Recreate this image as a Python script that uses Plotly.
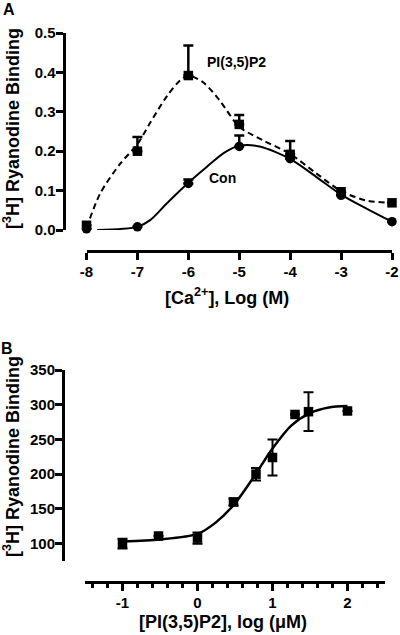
import plotly.graph_objects as go

# ---------------- Panel A data ----------------
ca_log = [-8, -7, -6, -5, -4, -3, -2]
pip2_vals = [0.012, 0.200, 0.392, 0.268, 0.192, 0.097, 0.069]
pip2_err = [0.0, 0.036, 0.076, 0.024, 0.034, 0.0, 0.0]
con_vals = [0.003, 0.008, 0.118, 0.212, 0.181, 0.088, 0.021]
con_err = [0.0, 0.0, 0.010, 0.028, 0.0, 0.0, 0.0]

# fitted curves
pip2_fit_x = [-8.0, -7.73, -7.34, -7.0, -6.75, -6.42, -6.16, -6.0, -5.71, -5.38, -5.0, -4.54, -4.01, -3.49, -3.0, -2.51, -2.0]
pip2_fit_y = [0.005, 0.093, 0.168, 0.218, 0.272, 0.340, 0.380, 0.392, 0.375, 0.328, 0.262, 0.228, 0.194, 0.144, 0.099, 0.075, 0.069]
con_fit_x = [-7.79, -7.0, -6.75, -6.42, -6.0, -5.64, -5.3, -5.0, -4.6, -4.01, -3.49, -3.0, -2.51, -2.0]
con_fit_y = [0.0, 0.008, 0.025, 0.068, 0.120, 0.160, 0.196, 0.214, 0.212, 0.181, 0.135, 0.090, 0.055, 0.021]

# ---------------- Panel B data ----------------
pi_log = [-1.0, -0.52, 0.0, 0.48, 0.78, 1.0, 1.3, 1.48, 2.0]
binding = [100, 111, 108, 160, 200, 224, 286, 290, 291]
binding_err = [7, 0, 8, 5, 9, 26, 0, 28, 0]
fit_b_x = [-1.0, -0.5, 0.0, 0.25, 0.5, 0.75, 1.0, 1.25, 1.5, 1.75, 2.0]
fit_b_y = [103, 106, 114, 131, 158, 196, 237, 270, 288, 296, 298]

ticks_a_y = [0.0, 0.1, 0.2, 0.3, 0.4, 0.5]
ticks_a_x = [-8, -7, -6, -5, -4, -3, -2]
ticks_b_y = [100, 150, 200, 250, 300, 350]
ticks_b_x = [-1, 0, 1, 2]

W, H = 400, 635
FONT = "Liberation Sans, Arial, Helvetica, sans-serif"


def px(x):
    return x / W


def py(y):
    return 1 - y / H


fig = go.Figure()

# Panel A curves
fig.add_trace(go.Scatter(x=pip2_fit_x, y=pip2_fit_y, mode="lines", line=dict(color="black", width=2, dash="6px,4px", shape="spline", smoothing=0.8), xaxis="x", yaxis="y", showlegend=False, hoverinfo="skip"))
fig.add_trace(go.Scatter(x=con_fit_x, y=con_fit_y, mode="lines", line=dict(color="black", width=2, shape="spline", smoothing=0.8), xaxis="x", yaxis="y", showlegend=False, hoverinfo="skip"))
fig.add_trace(go.Scatter(x=ca_log, y=pip2_vals, mode="markers", marker=dict(symbol="square", size=9.5, color="black"),
                         error_y=dict(type="data", array=pip2_err, arrayminus=[0]*len(pip2_err), symmetric=False, color="black", thickness=2.5, width=5),
                         xaxis="x", yaxis="y", cliponaxis=False, showlegend=False))
fig.add_trace(go.Scatter(x=ca_log, y=con_vals, mode="markers", marker=dict(symbol="circle", size=9.5, color="black"),
                         error_y=dict(type="data", array=con_err, arrayminus=[0]*len(con_err), symmetric=False, color="black", thickness=2.5, width=5),
                         xaxis="x", yaxis="y", cliponaxis=False, showlegend=False))

# Panel B
fig.add_trace(go.Scatter(x=fit_b_x, y=fit_b_y, mode="lines", line=dict(color="black", width=2.5, shape="spline", smoothing=0.8), xaxis="x2", yaxis="y2", showlegend=False, hoverinfo="skip"))
fig.add_trace(go.Scatter(x=pi_log, y=binding, mode="markers", marker=dict(symbol="square", size=9.5, color="black"),
                         error_y=dict(type="data", array=binding_err, color="black", thickness=2, width=5),
                         xaxis="x2", yaxis="y2", cliponaxis=False, showlegend=False))

tickfont = dict(family=FONT, size=15, color="black", weight="bold")
axcommon = dict(showgrid=False, zeroline=False, showline=True, linecolor="black", linewidth=3, automargin=False,
                ticks="outside", ticklen=7, tickwidth=3, tickcolor="black", tickfont=tickfont, fixedrange=True)

fig.update_layout(
    width=W, height=H,
    margin=dict(l=0, r=0, t=0, b=0, autoexpand=False),
    paper_bgcolor="white", plot_bgcolor="white",
    xaxis=dict(domain=[px(86.5), px(392)], range=[-8, -2], anchor="free", position=py(251),
               tickvals=ticks_a_x, ticktext=[str(v) for v in ticks_a_x], ticklabelstandoff=-1, **axcommon),
    yaxis=dict(domain=[py(230), py(33)], range=[0, 0.5], anchor="free", position=px(63.5),
               tickvals=ticks_a_y, ticktext=[f"{v:.1f}" for v in ticks_a_y], ticklabelstandoff=-3, **axcommon),
    xaxis2=dict(domain=[px(85), px(385)], range=[-1.5, 2.5], anchor="free", position=py(582),
                tickvals=ticks_b_x, ticktext=[str(v) for v in ticks_b_x], ticklabelstandoff=-1,
                minor=dict(dtick=0.2, tick0=0, ticks="outside", ticklen=4, tickwidth=3, tickcolor="black"),
                **axcommon),
    yaxis2=dict(domain=[py(561), py(370)], range=[75, 350], anchor="free", position=px(63),
                tickvals=ticks_b_y, ticktext=[str(v) for v in ticks_b_y], ticklabelstandoff=-3, **axcommon),
)

labfont = dict(family=FONT, size=14, color="black", weight="bold")
titlefont = dict(family=FONT, size=18, color="black", weight="bold")
ann = [
    dict(text="A", x=px(9), y=py(9), font=dict(family=FONT, size=16, color="black", weight="bold")),
    dict(text="B", x=px(7), y=py(348), font=dict(family=FONT, size=16, color="black", weight="bold")),
    dict(text="PI(3,5)P2", x=px(236), y=py(62), font=labfont),
    dict(text="Con", x=px(222), y=py(178), font=labfont),
    dict(text="[Ca<sup>2+</sup>], Log (M)", x=px(227), y=py(296), font=titlefont),
    dict(text="[<sup>3</sup>H] Ryanodine Binding", x=px(11), y=py(129), textangle=-90, font=titlefont),
    dict(text="[PI(3,5)P2], log (μM)", x=px(223), y=py(622), font=titlefont),
    dict(text="[<sup>3</sup>H] Ryanodine Binding", x=px(11), y=py(457), textangle=-90, font=titlefont),
]
for a in ann:
    a.update(xref="paper", yref="paper", showarrow=False, xanchor="center", yanchor="middle")
fig.update_layout(annotations=ann)

fig.write_html("out.html", config={"displayModeBar": False},
               post_script="document.body.style.margin='0';document.body.style.overflow='hidden';")
